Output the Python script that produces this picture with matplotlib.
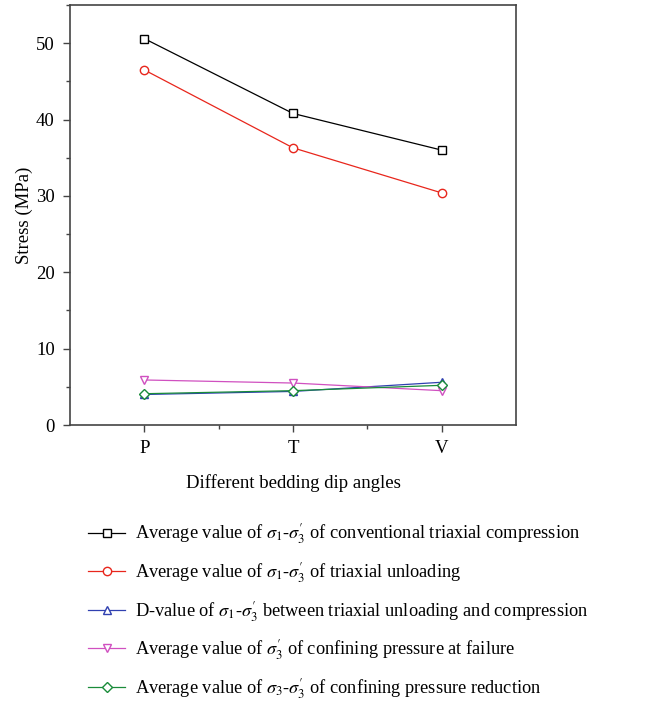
import matplotlib.pyplot as plt
from matplotlib.ticker import MultipleLocator

plt.rcParams["font.family"] = ["Liberation Serif", "DejaVu Serif"]
plt.rcParams["mathtext.fontset"] = "stix"

angles = ["P", "T", "V"]
conventional = [50.6, 40.8, 36.0]
unloading = [46.5, 36.3, 30.4]
d_value = [4.0, 4.4, 5.6]
confining_failure = [5.9, 5.5, 4.5]
confining_reduction = [4.1, 4.5, 5.2]

labels = [
    r"Average value of $\sigma_1$-$\sigma_3^{\prime}$ of conventional triaxial compression",
    r"Average value of $\sigma_1$-$\sigma_3^{\prime}$ of triaxial unloading",
    r"D-value of $\sigma_1$-$\sigma_3^{\prime}$ between triaxial unloading and compression",
    r"Average value of $\sigma_3^{\prime}$ of confining pressure at failure",
    r"Average value of $\sigma_3$-$\sigma_3^{\prime}$ of confining pressure reduction",
]

series = [
    (conventional, "black", "s"),
    (unloading, "#e8261c", "o"),
    (d_value, "#3040b0", "^"),
    (confining_failure, "#d050c0", "v"),
    (confining_reduction, "#1a8c3a", "D"),
]

fig = plt.figure(figsize=(6.64, 7.03), dpi=100)
ax = fig.add_axes([0.1054, 0.3954, 0.6716, 0.5975])

x = list(range(len(angles)))
handles = []
for (vals, color, marker), label in zip(series, labels):
    ms = 5 if marker == "D" else 6
    h, = ax.plot(x, vals, color=color, marker=marker, markersize=ms,
                 markerfacecolor="white", markeredgecolor=color,
                 markeredgewidth=1.0, linewidth=0.9, label=label)
    handles.append(h)

ax.set_xlim(-0.5, 2.5)
ax.set_ylim(0, 55)
ax.set_xticks(x)
ax.set_xticklabels(angles)
ax.set_xticks([0.5, 1.5], minor=True)
ax.yaxis.set_major_locator(MultipleLocator(10))
ax.yaxis.set_minor_locator(MultipleLocator(5))
ax.tick_params(axis="both", which="major", direction="out", length=5,
               width=1.0, labelsize=13.5, color="#444444", pad=6)
ax.tick_params(axis="both", which="minor", direction="out", length=3,
               width=1.0, color="#444444")
for s in ax.spines.values():
    s.set_color("#444444")
    s.set_linewidth(1.2)

ax.set_xlabel("Different bedding dip angles", fontsize=13.5, labelpad=12)
ax.set_ylabel("Stress (MPa)", fontsize=13.5, labelpad=2)

fig.legend(handles=handles, loc="upper left", bbox_to_anchor=(0.133, 0.258),
           frameon=False, fontsize=13.2, handlelength=2.0, handletextpad=0.55,
           labelspacing=0.75, borderpad=0, borderaxespad=0)

fig.savefig("out.png", dpi=100)
